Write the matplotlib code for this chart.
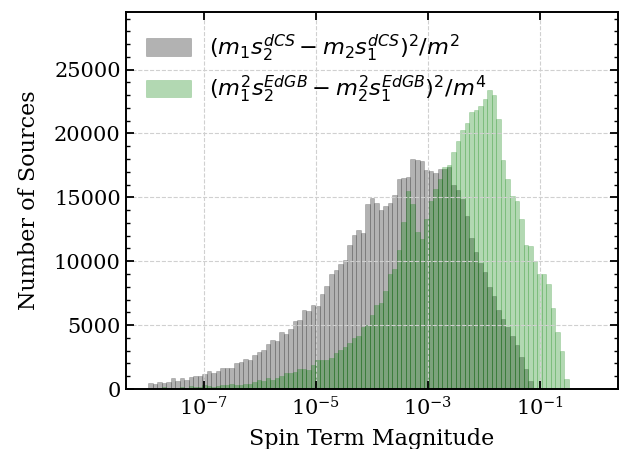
import numpy as np
import matplotlib
matplotlib.use('Agg')
import matplotlib.pyplot as plt
from matplotlib.ticker import FixedLocator, NullLocator, MultipleLocator

plt.rcParams['font.family'] = 'serif'

# shared log-spaced bins (99 bins from 1e-8 to 1)
bin_edges = np.logspace(-8, 0, 100)

# counts, one per bin
dcs_counts = [
    470, 365, 550, 490, 570, 830, 650, 830, 700, 940, 1020, 1020, 1170, 1410,
    1280, 1430, 1610, 1610, 1610, 2000, 2110, 2320,
    2265, 2656, 2915, 3047, 3516, 3828, 3750, 4453, 4270, 4660, 5290, 5390,
    6170, 6090, 6560, 6480, 7470, 8050, 9040, 9300,
    9820, 10080, 11250, 12030, 12470, 12210, 14450, 14970, 14560, 13980, 14300,
    14580, 15160, 16400, 16540, 16600,
    18020, 17890, 17810, 17110, 17060, 16930, 17240, 17240, 17370,
    15940, 15550, 14840, 13520, 11800, 10750, 9850, 9160, 7950, 7270, 6200,
    5500, 4880, 4120, 3440, 2530, 1550, 640,
    0, 0, 0, 0, 0, 0, 0, 0, 0, 0, 0, 0, 0, 0,
]
edgb_counts = [
    0, 30, 60, 130, 60, 110, 90, 150, 110, 200, 120, 180, 280, 220, 140, 250,
    300, 280, 370, 320,
    310, 390, 390, 570, 700, 650, 830, 700, 860, 1020, 1250, 1220, 1350, 1540,
    1590, 1480, 1875, 2265, 2265, 2265, 2450, 2800,
    3050, 3300, 3570, 3960, 4140, 4820, 5000, 5780, 6610, 6740, 7660, 9040,
    9375, 10910, 13050, 15470,
    14450, 12290, 11770, 13330, 14690, 15680, 16460, 17370, 17500,
    18590, 19450, 20290, 20810, 21670, 21800, 22190, 22710, 23410, 23050, 21150,
    17890, 16410, 15080, 14690, 13330, 11250, 11170, 10000, 8980, 9040, 8200,
    6380, 4430, 3000, 780,
    0, 0, 0, 0, 0, 0,
]

x_ticks = [1e-7, 1e-5, 1e-3, 1e-1]
y_ticks = [0, 5000, 10000, 15000, 20000, 25000]

label_dcs = r'$(m_1 s_2^{dCS} - m_2 s_1^{dCS})^2/m^2$'
label_edgb = r'$(m_1^2 s_2^{EdGB} - m_2^2 s_1^{EdGB})^2/m^4$'

fig = plt.figure(figsize=(6.2, 4.49), dpi=100)
ax = fig.add_axes([0.2026, 0.1336, 0.7948, 0.8394])

centers = np.sqrt(bin_edges[:-1] * bin_edges[1:])
ax.hist(centers, bins=bin_edges, weights=dcs_counts, color='k', alpha=0.3,
        edgecolor='k', linewidth=0.4, label=label_dcs)
ax.hist(centers, bins=bin_edges, weights=edgb_counts, color='g', alpha=0.3,
        edgecolor='g', linewidth=0.4, label=label_edgb)

ax.set_xscale('log')
ax.set_xlim(10**-8.4, 10**0.4)
ax.set_ylim(0, 29500)

ax.xaxis.set_major_locator(FixedLocator(x_ticks))
ax.xaxis.set_minor_locator(NullLocator())
ax.yaxis.set_major_locator(FixedLocator(y_ticks))
ax.yaxis.set_minor_locator(MultipleLocator(1000))

ax.grid(True, which='major', linestyle='--', color='#d0d0d0', linewidth=0.8)
ax.tick_params(which='both', direction='in', top=True, right=True,
               labelsize=15)
ax.tick_params(which='major', length=6, width=1.3)
ax.tick_params(which='minor', length=3, width=1.0)
ax.tick_params(axis='x', which='major', pad=5.5)
for sp in ax.spines.values():
    sp.set_linewidth(1.4)

ax.set_xlabel('Spin Term Magnitude', fontsize=16, labelpad=6)
ax.set_ylabel('Number of Sources', fontsize=16, labelpad=10)

ax.legend(loc='upper left', frameon=False, fontsize=16.2, handlelength=2.0,
          handleheight=0.8, borderaxespad=0.5, labelspacing=0.45)

fig.savefig('out.png', dpi=100)
